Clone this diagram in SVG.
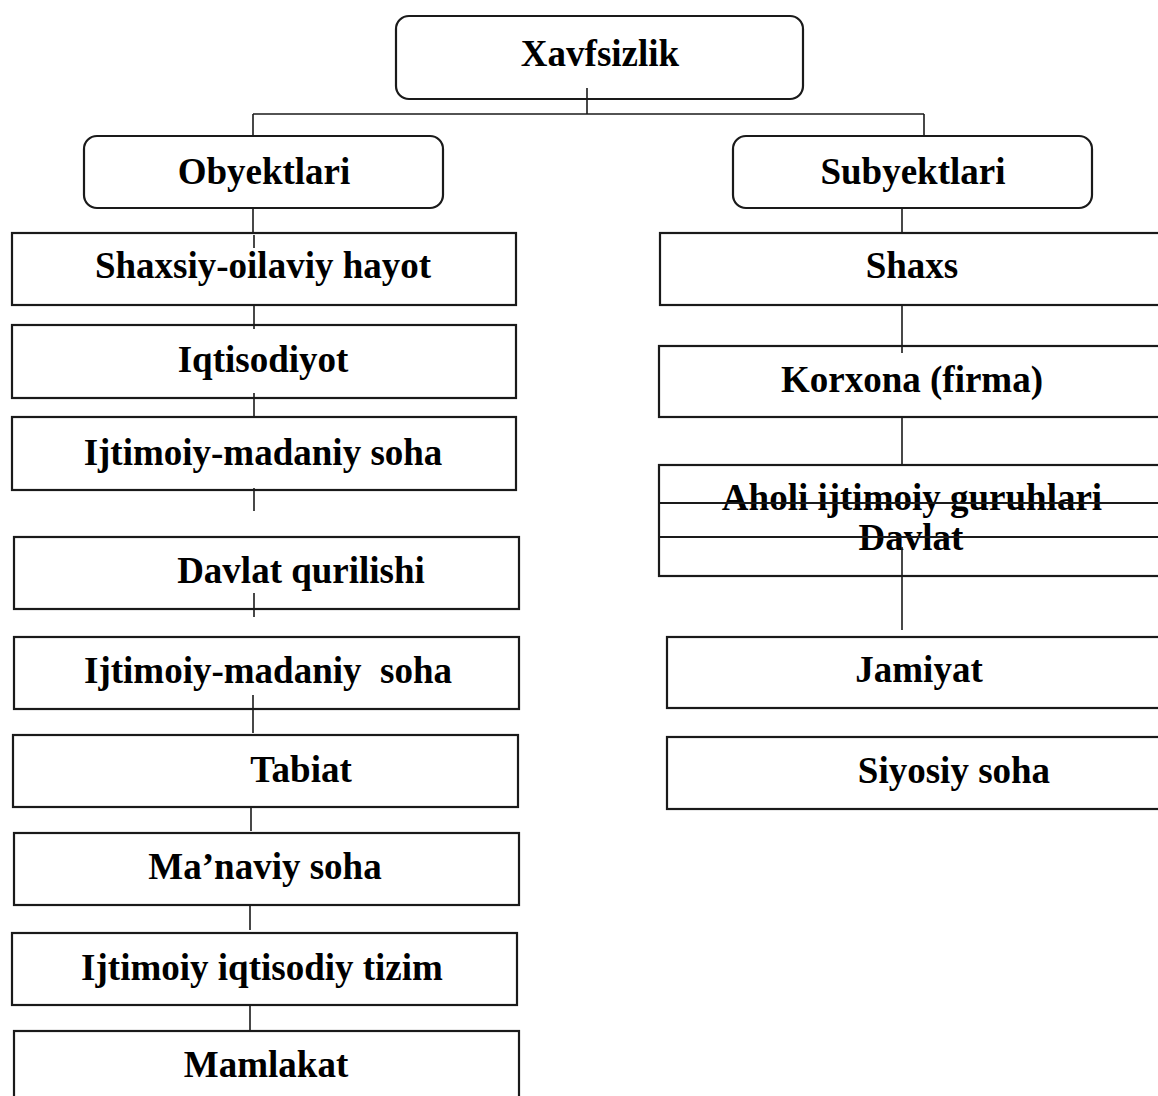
<svg xmlns="http://www.w3.org/2000/svg" width="1158" height="1096" viewBox="0 0 1158 1096">
<style>
.box{fill:#fff;stroke:#1a1a1a;stroke-width:2.2}
.ln{stroke:#1a1a1a;stroke-width:1.6;fill:none}
text{font-family:"Liberation Serif","Times New Roman",serif;font-weight:bold;font-size:37px;fill:#000;text-anchor:middle;white-space:pre}
</style>
<rect width="1158" height="1096" fill="#fff"/>
<g id="n-xavfsizlik"><rect class="box" x="396" y="16" width="407" height="83" rx="13"/><text x="600" y="66">Xavfsizlik</text></g>
<g id="n-obyektlari"><rect class="box" x="84" y="136" width="359" height="72" rx="13"/><text x="264" y="184">Obyektlari</text></g>
<g id="n-subyektlari"><rect class="box" x="733" y="136" width="359" height="72" rx="13"/><text x="913" y="184">Subyektlari</text></g>
<g id="n-shaxsiy"><rect class="box" x="12" y="233" width="504" height="72"/><text x="263" y="278">Shaxsiy-oilaviy hayot</text></g>
<g id="n-iqtisodiyot"><rect class="box" x="12" y="325" width="504" height="73"/><text x="263" y="372">Iqtisodiyot</text></g>
<g id="n-ijtimoiy1"><rect class="box" x="12" y="417" width="504" height="73"/><text x="263" y="465">Ijtimoiy-madaniy soha</text></g>
<g id="n-davlatq"><rect class="box" x="14" y="537" width="505" height="72"/><text x="301" y="583">Davlat qurilishi</text></g>
<g id="n-ijtimoiy2"><rect class="box" x="14" y="637" width="505" height="72"/><text x="268" y="683">Ijtimoiy-madaniy  soha</text></g>
<g id="n-tabiat"><rect class="box" x="13" y="735" width="505" height="72"/><text x="301" y="782">Tabiat</text></g>
<g id="n-manaviy"><rect class="box" x="14" y="833" width="505" height="72"/><text x="265" y="879">Ma’naviy soha</text></g>
<g id="n-tizim"><rect class="box" x="12" y="933" width="505" height="72"/><text x="262" y="980">Ijtimoiy iqtisodiy tizim</text></g>
<g id="n-mamlakat"><rect class="box" x="14" y="1031" width="505" height="80"/><text x="266" y="1077">Mamlakat</text></g>
<g id="n-shaxs"><rect class="box" x="660" y="233" width="520" height="72"/><text x="912" y="278">Shaxs</text></g>
<g id="n-korxona"><rect class="box" x="659" y="346" width="520" height="71"/><text x="912" y="392">Korxona (firma)</text></g>
<g id="n-aholi"><rect class="box" x="659" y="465" width="520" height="111"/>
<text x="912" y="510">Aholi ijtimoiy guruhlari</text>
<text x="911" y="550">Davlat</text>
<line class="box" x1="659" y1="503" x2="1180" y2="503"/>
<line class="box" x1="659" y1="537" x2="1180" y2="537"/></g>
<g id="n-jamiyat"><rect class="box" x="667" y="637" width="520" height="71"/><text x="919" y="682">Jamiyat</text></g>
<g id="n-siyosiy"><rect class="box" x="667" y="737" width="520" height="72"/><text x="954" y="783">Siyosiy soha</text></g>
<g id="connectors">
<line class="ln" x1="587" y1="88" x2="587" y2="114"/>
<line class="ln" x1="253" y1="114" x2="924" y2="114"/>
<line class="ln" x1="253" y1="114" x2="253" y2="136"/>
<line class="ln" x1="924" y1="114" x2="924" y2="136"/>
<line class="ln" x1="253" y1="208" x2="253" y2="232"/>
<line class="ln" x1="254" y1="235" x2="254" y2="248"/>
<line class="ln" x1="254" y1="305" x2="254" y2="329"/>
<line class="ln" x1="254" y1="393" x2="254" y2="417"/>
<line class="ln" x1="254" y1="488" x2="254" y2="511"/>
<line class="ln" x1="254" y1="593" x2="254" y2="617"/>
<line class="ln" x1="253" y1="695" x2="253" y2="733"/>
<line class="ln" x1="251" y1="807" x2="251" y2="831"/>
<line class="ln" x1="250" y1="905" x2="250" y2="930"/>
<line class="ln" x1="250" y1="1005" x2="250" y2="1030"/>
<line class="ln" x1="902" y1="208" x2="902" y2="232"/>
<line class="ln" x1="902" y1="305" x2="902" y2="353"/>
<line class="ln" x1="902" y1="417" x2="902" y2="464"/>
<line class="ln" x1="902" y1="547" x2="902" y2="630"/>
</g>
</svg>
